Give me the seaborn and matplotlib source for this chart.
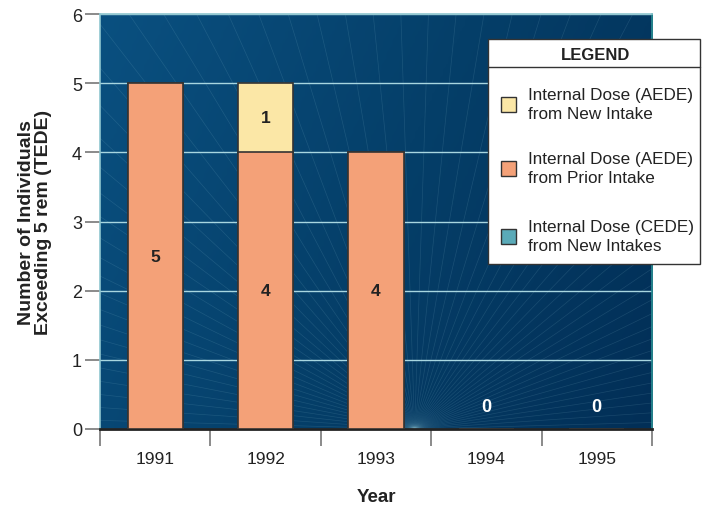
import numpy as np
import pandas as pd
import matplotlib
matplotlib.use("Agg")
import matplotlib.pyplot as plt
from matplotlib.patches import Rectangle
from matplotlib.lines import Line2D
from matplotlib.colors import LinearSegmentedColormap
import seaborn as sns

years = ["1991", "1992", "1993", "1994", "1995"]
prior_intake = [5, 4, 4, 0, 0]      # Internal Dose (AEDE) from Prior Intake
new_intake = [0, 1, 0, 0, 0]        # Internal Dose (AEDE) from New Intake
cede_new = [0, 0, 0, 0, 0]          # Internal Dose (CEDE) from New Intakes
legend_labels = ["Internal Dose (AEDE)\nfrom New Intake",
                 "Internal Dose (AEDE)\nfrom Prior Intake",
                 "Internal Dose (CEDE)\nfrom New Intakes"]

sns.set_theme(style="white")
plt.rcParams["font.family"] = ["Liberation Sans", "DejaVu Sans"]

c_new = "#fbe7a6"
c_prior = "#f4a178"
c_cede = "#5aaab8"

fig = plt.figure(figsize=(7.06, 5.06), dpi=100)
ax = fig.add_axes([100/706, 1-430/506, 552/706, 415/506])

# background gradient
cmap = LinearSegmentedColormap.from_list("bg", ["#0a5080", "#053f69", "#022f57"])
gx = np.linspace(0, 1, 200)
gy = np.linspace(0, 1, 100)
GX, GY = np.meshgrid(gx, gy)
grad = 0.75 * GX + 0.25 * (1 - GY)
ax.imshow(grad, extent=[-0.5, 4.5, 0, 6], origin="lower", aspect="auto",
          cmap=cmap, zorder=0)

# decorative rays
fx, fy = 2.35, 0.0
for ang in np.linspace(2, 178, 60):
    t = np.deg2rad(ang)
    ax.plot([fx, fx + 20 * np.cos(t) * 0.8], [fy, fy + 20 * np.sin(t)],
            color="#9fd3e0", lw=0.5, alpha=0.14, zorder=0.5)

df = pd.DataFrame({"Year": years,
                   "total": np.array(prior_intake) + np.array(new_intake),
                   "prior": prior_intake})

sns.barplot(data=df, x="Year", y="total", color=c_new, width=0.5,
            edgecolor="#333333", linewidth=1.2, saturation=1, ax=ax, zorder=3)
sns.barplot(data=df, x="Year", y="prior", color=c_prior, width=0.5,
            edgecolor="#333333", linewidth=1.2, saturation=1, ax=ax, zorder=3)

ax.set_xlim(-0.5, 4.5)
ax.set_ylim(0, 6)
ax.set_yticks(range(0, 7))
ax.grid(axis="y", color="#a8d6e0", lw=1.0, zorder=1)
for l in ax.get_ygridlines():
    l.set_zorder(1)

# value labels
for i, (p, n) in enumerate(zip(prior_intake, new_intake)):
    if p > 0:
        ax.text(i, p / 2, str(p), ha="center", va="center", fontsize=12.5,
                fontweight="bold", color="#222222", zorder=5)
    if n > 0:
        ax.text(i, p + n / 2, str(n), ha="center", va="center", fontsize=12.5,
                fontweight="bold", color="#222222", zorder=5)
    if p + n == 0:
        ax.text(i, 0.33, "0", ha="center", va="center", fontsize=13,
                fontweight="bold", color="white", zorder=5)

# axes styling
for s in ["top", "right", "left"]:
    ax.spines[s].set_color("#8fc6cf")
    ax.spines[s].set_linewidth(1.2)
ax.spines["right"].set_color("#2a8f95")
ax.spines["bottom"].set_color("#222222")
ax.spines["bottom"].set_linewidth(2.0)

ax.tick_params(axis="y", which="major", direction="out", length=11,
               color="#777777", width=1.2, labelsize=13, labelcolor="#222222",
               left=True, pad=2)
ax.tick_params(axis="x", which="major", length=0, labelsize=12.5,
               labelcolor="#222222", pad=16)
ax.set_xticks(np.arange(-0.5, 5.0, 1.0), minor=True)
ax.tick_params(axis="x", which="minor", direction="out", length=12,
               color="#777777", width=1.2, bottom=True)

ax.set_xlabel("Year", fontsize=13.5, fontweight="bold", color="#222222",
              labelpad=16)
ax.set_ylabel("Number of Individuals\nExceeding 5 rem (TEDE)", fontsize=14,
              fontweight="bold", color="#222222", labelpad=14,
              linespacing=1.0)

# legend box (figure coordinates)
def fx_(px):
    return px / 706
def fy_(py):
    return 1 - py / 506

lx0, lx1, ly0, ly1 = 488, 700, 40, 265
fig.patches.append(Rectangle((fx_(lx0), fy_(ly1)), fx_(lx1) - fx_(lx0),
                             fy_(ly0) - fy_(ly1), transform=fig.transFigure,
                             facecolor="white", edgecolor="#333333", lw=1.0,
                             zorder=10))
fig.text(fx_(596), fy_(55), "LEGEND", ha="center", va="center", fontsize=12,
         fontweight="bold", color="#222222", zorder=11)
fig.lines.append(Line2D([fx_(lx0), fx_(lx1)], [fy_(68), fy_(68)],
                        transform=fig.transFigure, color="#333333", lw=1.0,
                        zorder=11))
for yc, col, lab in zip([105, 169, 237], [c_new, c_prior, c_cede], legend_labels):
    fig.patches.append(Rectangle((fx_(501), fy_(yc + 8)), fx_(15), 15 / 506,
                                 transform=fig.transFigure, facecolor=col,
                                 edgecolor="#333333", lw=1.0, zorder=11))
    fig.text(fx_(528), fy_(yc), lab, ha="left", va="center", fontsize=12.3,
             color="#222222", zorder=11, linespacing=1.3)

fig.savefig("out.png", dpi=100)
